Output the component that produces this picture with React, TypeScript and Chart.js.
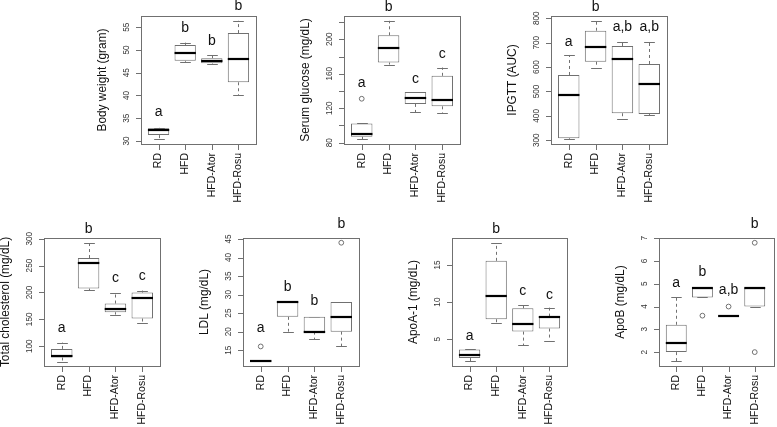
import React, { useEffect, useRef } from 'react';
import { Chart, registerables } from 'chart.js';
Chart.register(...registerables);

const W = 777;
const H = 427;
const FONT = '"Liberation Sans", Arial, Helvetica, sans-serif';

const groups = ['RD', 'HFD', 'HFD-Ator', 'HFD-Rosu'];
const groupPos = [1, 2, 3, 4];

// Body weight
const bwLow = [30.4, 47.4, 47.0, 40.1];
const bwQ1 = [31.3, 47.6, 47.1, 42.9];
const bwMed = [32.4, 49.3, 47.6, 48.0];
const bwQ3 = [32.8, 51.1, 48.2, 53.7];
const bwHigh = [32.9, 51.6, 48.8, 56.4];
const bwOutX: number[] = [];
const bwOutY: number[] = [];
const bwLetters = ['a', 'b', 'b', 'b'];
const bwLetterY = [36.4, 54.8, 52.0, 59.7];
const bwTicks = [30, 35, 40, 45, 50, 55];
const bwTickLabels = ['30', '35', '40', '45', '50', '55'];

// Serum glucose
const sgLow = [83.8, 170.7, 115.3, 114.6];
const sgQ1 = [86.9, 173, 125, 122.2];
const sgMed = [89.6, 189.6, 131.9, 130];
const sgQ3 = [102.3, 204.6, 138.8, 157.6];
const sgHigh = [102.3, 221.4, 138.8, 167.2];
const sgOutX = [1];
const sgOutY = [131];
const sgLetters = ['a', 'b', 'c', 'c'];
const sgLetterY = [149.2, 237.6, 153.8, 183];
const sgTicks = [80, 100, 120, 140, 160, 180, 200, 220];
const sgTickLabels = ['80', '', '120', '', '160', '', '200', ''];

// IPGTT
const ipLow = [304, 597.5, 387, 403.7];
const ipQ1 = [308, 622, 410.7, 407.8];
const ipMed = [484.4, 683.6, 633, 532];
const ipQ3 = [567.6, 749, 686.5, 612.7];
const ipHigh = [649.6, 790, 704, 704];
const ipOutX: number[] = [];
const ipOutY: number[] = [];
const ipLetters = ['a', 'b', 'a,b', 'a,b'];
const ipLetterY = [704, 847.5, 765.6, 765.6];
const ipTicks = [300, 400, 500, 600, 700, 800];
const ipTickLabels = ['300', '400', '500', '600', '700', '800'];

// Total cholesterol
const tcLow = [71.0, 204, 158.9, 143.3];
const tcQ1 = [79, 207.2, 163.2, 151.5];
const tcMed = [81.4, 254.3, 170, 189.8];
const tcQ3 = [95, 264, 179.4, 199.8];
const tcHigh = [106.9, 292.7, 199.8, 203.5];
const tcOutX: number[] = [];
const tcOutY: number[] = [];
const tcLetters = ['a', 'b', 'c', 'c'];
const tcLetterY = [134, 318, 225.8, 230.1];
const tcTicks = [100, 150, 200, 250, 300];
const tcTickLabels = ['100', '150', '200', '250', '300'];

// LDL
const ldLow = [12, 20, 18, 16];
const ldQ1 = [12, 24, 20, 20];
const ldMed = [12, 28, 20, 24];
const ldQ3 = [12, 28, 24, 28];
const ldHigh = [12, 28, 24, 28];
const ldOutX = [1, 4];
const ldOutY = [16, 44];
const ldLetters = ['a', 'b', 'b', 'b'];
const ldLetterY = [20.9, 32.0, 28.3, 49.0];
const ldTicks = [15, 20, 25, 30, 35, 40, 45];
const ldTickLabels = ['15', '20', '25', '30', '35', '40', '45'];

// ApoA-1
const aaLow = [2.04, 7.23, 4.19, 4.81];
const aaQ1 = [2.45, 7.69, 6.02, 6.43];
const aaMed = [2.85, 10.82, 7.02, 8.0];
const aaQ3 = [3.6, 15.56, 9.17, 8.04];
const aaHigh = [3.66, 17.98, 9.57, 9.25];
const aaOutX: number[] = [];
const aaOutY: number[] = [];
const aaLetters = ['a', 'b', 'c', 'c'];
const aaLetterY = [5.44, 19.8, 11.5, 10.95];
const aaTicks = [5, 10, 15];
const aaTickLabels = ['5', '10', '15'];

// ApoB
const abLow = [1.6, 4.4, 3.6, 4.0];
const abQ1 = [2.0, 4.4, 3.6, 4.0];
const abMed = [2.4, 4.8, 3.6, 4.8];
const abQ3 = [3.2, 4.8, 3.6, 4.8];
const abHigh = [4.4, 4.8, 3.6, 4.8];
const abOutX = [2, 3, 4, 4];
const abOutY = [3.6, 4.0, 6.8, 2.0];
const abLetters = ['a', 'b', 'a,b', 'b'];
const abLetterY = [5.03, 5.49, 4.73, 7.63];
const abTicks = [2, 3, 4, 5, 6, 7];
const abTickLabels = ['2', '3', '4', '5', '6', '7'];

type Panel = {
  title: string;
  min: number;
  max: number;
  ticks: number[];
  tickLabels: string[];
  low: number[];
  q1: number[];
  med: number[];
  q3: number[];
  high: number[];
  outX: number[];
  outY: number[];
  letters: string[];
  letterY: number[];
  frame: [number, number, number, number];
};

const panels: Panel[] = [
  { title: 'Body weight (gram)', min: 29.35, max: 57.45, ticks: bwTicks, tickLabels: bwTickLabels, low: bwLow, q1: bwQ1, med: bwMed, q3: bwQ3, high: bwHigh, outX: bwOutX, outY: bwOutY, letters: bwLetters, letterY: bwLetterY, frame: [141, 16, 256, 144] },
  { title: 'Serum glucose (mg/dL)', min: 78.5, max: 227, ticks: sgTicks, tickLabels: sgTickLabels, low: sgLow, q1: sgQ1, med: sgMed, q3: sgQ3, high: sgHigh, outX: sgOutX, outY: sgOutY, letters: sgLetters, letterY: sgLetterY, frame: [344, 16, 460, 144] },
  { title: 'IPGTT (AUC)', min: 284.6, max: 809.4, ticks: ipTicks, tickLabels: ipTickLabels, low: ipLow, q1: ipQ1, med: ipMed, q3: ipQ3, high: ipHigh, outX: ipOutX, outY: ipOutY, letters: ipLetters, letterY: ipLetterY, frame: [551, 16, 667, 144] },
  { title: 'Total cholesterol (mg/dL)', min: 63.2, max: 301.3, ticks: tcTicks, tickLabels: tcTickLabels, low: tcLow, q1: tcQ1, med: tcMed, q3: tcQ3, high: tcHigh, outX: tcOutX, outY: tcOutY, letters: tcLetters, letterY: tcLetterY, frame: [44, 238, 160, 366] },
  { title: 'LDL (mg/dL)', min: 10.72, max: 45.28, ticks: ldTicks, tickLabels: ldTickLabels, low: ldLow, q1: ldQ1, med: ldMed, q3: ldQ3, high: ldHigh, outX: ldOutX, outY: ldOutY, letters: ldLetters, letterY: ldLetterY, frame: [243, 238, 359, 366] },
  { title: 'ApoA-1 (mg/dL)', min: 1.38, max: 18.64, ticks: aaTicks, tickLabels: aaTickLabels, low: aaLow, q1: aaQ1, med: aaMed, q3: aaQ3, high: aaHigh, outX: aaOutX, outY: aaOutY, letters: aaLetters, letterY: aaLetterY, frame: [452, 238, 567, 366] },
  { title: 'ApoB (mg/dL)', min: 1.39, max: 7.01, ticks: abTicks, tickLabels: abTickLabels, low: abLow, q1: abQ1, med: abMed, q3: abQ3, high: abHigh, outX: abOutX, outY: abOutY, letters: abLetters, letterY: abLetterY, frame: [659, 238, 774, 366] },
];

const GRAY = '#707070';

function rotText(ctx: CanvasRenderingContext2D, text: string, x: number, y: number, align: CanvasTextAlign) {
  ctx.save();
  ctx.translate(x, y);
  ctx.rotate(-Math.PI / 2);
  ctx.textAlign = align;
  ctx.textBaseline = 'middle';
  ctx.fillText(text, 0, 0);
  ctx.restore();
}

function boxPlugin(p: Panel) {
  return {
    id: 'boxplotR',
    beforeDatasetsDraw(chart: any) {
      const ctx: CanvasRenderingContext2D = chart.ctx;
      const xs = chart.scales.x;
      const ys = chart.scales.y;
      ctx.save();
      ctx.strokeStyle = GRAY;
      ctx.lineWidth = 1;
      groupPos.forEach((g, i) => {
        const x = Math.round(xs.getPixelForValue(g)) + 0.5;
        const half = xs.getPixelForValue(g + 0.2) - xs.getPixelForValue(g);
        const yHigh = ys.getPixelForValue(p.high[i]);
        const yQ3 = ys.getPixelForValue(p.q3[i]);
        const yLow = ys.getPixelForValue(p.low[i]);
        const yQ1 = ys.getPixelForValue(p.q1[i]);
        ctx.setLineDash([3, 3]);
        ctx.beginPath();
        ctx.moveTo(x, yQ3);
        ctx.lineTo(x, yHigh);
        ctx.moveTo(x, yQ1);
        ctx.lineTo(x, yLow);
        ctx.stroke();
        ctx.setLineDash([]);
        ctx.beginPath();
        ctx.moveTo(x - half, Math.round(yHigh) + 0.5);
        ctx.lineTo(x + half, Math.round(yHigh) + 0.5);
        ctx.moveTo(x - half, Math.round(yLow) + 0.5);
        ctx.lineTo(x + half, Math.round(yLow) + 0.5);
        ctx.stroke();
      });
      ctx.restore();
    },
    afterDatasetsDraw(chart: any) {
      const ctx: CanvasRenderingContext2D = chart.ctx;
      const xs = chart.scales.x;
      const ys = chart.scales.y;
      const [l, t, r, b] = p.frame;
      ctx.save();
      // medians
      ctx.strokeStyle = '#000';
      ctx.lineWidth = 2.2;
      groupPos.forEach((g, i) => {
        const x0 = xs.getPixelForValue(g - 0.4);
        const x1 = xs.getPixelForValue(g + 0.4);
        const y = Math.round(ys.getPixelForValue(p.med[i]));
        ctx.beginPath();
        ctx.moveTo(x0, y);
        ctx.lineTo(x1, y);
        ctx.stroke();
      });
      // frame
      ctx.strokeStyle = GRAY;
      ctx.lineWidth = 1;
      ctx.strokeRect(l + 0.5, t + 0.5, r - l, b - t);
      // y ticks
      ctx.beginPath();
      p.ticks.forEach((v) => {
        const y = Math.round(ys.getPixelForValue(v)) + 0.5;
        ctx.moveTo(l - 5, y);
        ctx.lineTo(l + 0.5, y);
      });
      // x ticks
      groupPos.forEach((g) => {
        const x = Math.round(xs.getPixelForValue(g)) + 0.5;
        ctx.moveTo(x, b + 0.5);
        ctx.lineTo(x, b + 6);
      });
      ctx.stroke();
      // tick labels
      ctx.fillStyle = '#333';
      ctx.font = `8.2px ${FONT}`;
      p.ticks.forEach((v, i) => {
        const lab = p.tickLabels[i];
        if (lab) rotText(ctx, lab, l - 14, ys.getPixelForValue(v), 'center');
      });
      // x labels
      ctx.fillStyle = '#111';
      ctx.font = `10.5px ${FONT}`;
      groupPos.forEach((g, i) => {
        rotText(ctx, groups[i], xs.getPixelForValue(g), b + 9, 'right');
      });
      // axis title
      ctx.font = `11.9px ${FONT}`;
      rotText(ctx, p.title, l - 38, (t + b) / 2, 'center');
      // letters
      ctx.font = `14px ${FONT}`;
      ctx.textAlign = 'center';
      ctx.textBaseline = 'middle';
      groupPos.forEach((g, i) => {
        ctx.fillText(p.letters[i], xs.getPixelForValue(g), ys.getPixelForValue(p.letterY[i]));
      });
      ctx.restore();
    },
  };
}

function BoxPanel({ p }: { p: Panel }) {
  const ref = useRef<HTMLCanvasElement | null>(null);
  useEffect(() => {
    if (!ref.current) return;
    const [l, t, r, b] = p.frame;
    const chart = new Chart(ref.current, {
      type: 'bar',
      data: {
        datasets: [
          {
            type: 'bar',
            data: groupPos.map((x, i) => ({ x, y: [p.q1[i], p.q3[i]] })) as any,
            backgroundColor: '#ffffff',
            borderColor: GRAY,
            borderWidth: 1,
            borderSkipped: false,
            barPercentage: 0.8,
            categoryPercentage: 1,
            order: 2,
          } as any,
          {
            type: 'scatter',
            data: p.outX.map((x, i) => ({ x, y: p.outY[i] })),
            pointStyle: 'circle',
            pointRadius: 2.4,
            borderColor: GRAY,
            borderWidth: 1,
            backgroundColor: 'rgba(0,0,0,0)',
            showLine: false,
            order: 1,
          } as any,
        ],
      },
      options: {
        responsive: false,
        animation: false,
        events: [],
        layout: { padding: { left: l, top: t, right: W - r, bottom: H - b } },
        scales: {
          x: {
            type: 'linear',
            min: 0.34,
            max: 4.66,
            display: false,
            offset: false,
            afterBuildTicks: (s: any) => {
              s.ticks = groupPos.map((v) => ({ value: v }));
            },
          },
          y: { type: 'linear', min: p.min, max: p.max, display: false },
        },
        plugins: { legend: { display: false }, tooltip: { enabled: false } },
      } as any,
      plugins: [boxPlugin(p)],
    });
    return () => chart.destroy();
  }, [p]);
  return (
    <canvas
      ref={ref}
      width={W}
      height={H}
      style={{ position: 'absolute', left: 0, top: 0, width: W, height: H }}
    />
  );
}

export default function App() {
  return (
    <div style={{ position: 'fixed', left: 0, top: 0, width: W, height: H, background: '#fff', overflow: 'hidden' }}>
      {panels.map((p, i) => (
        <BoxPanel key={i} p={p} />
      ))}
    </div>
  );
}
